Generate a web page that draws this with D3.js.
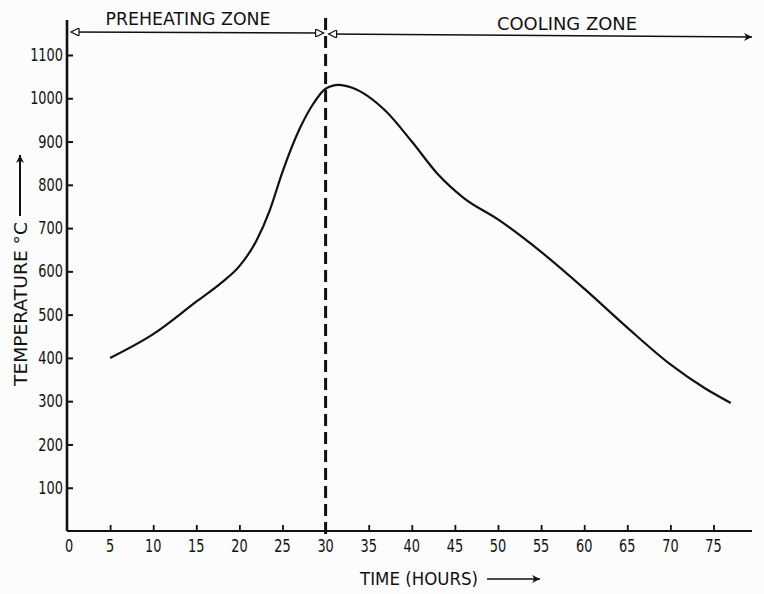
<!DOCTYPE html>
<html>
<head>
<meta charset="utf-8">
<title>Kiln temperature profile</title>
<script src="https://cdnjs.cloudflare.com/ajax/libs/d3/7.8.5/d3.min.js"></script>
<style>
  body { margin: 0; background: #fcfcfc; }
  svg text { font-family: "DejaVu Sans", sans-serif; fill: #111; }
</style>
</head>
<body>
<svg id="chart" width="764" height="594"></svg>
<script>
// curve: time in hours, temperature in deg C
var hours = [5, 10, 15, 18, 20, 22, 23.5, 25, 27, 28.5, 30, 31.5, 33, 37, 40, 43, 46, 50, 55, 60, 65, 70, 74, 77];
var temps = [400, 455, 530, 575, 612, 672, 740, 830, 930, 985, 1022, 1031, 1025, 970, 900, 825, 770, 720, 645, 560, 470, 385, 330, 296];
var xTicks = [0, 5, 10, 15, 20, 25, 30, 35, 40, 45, 50, 55, 60, 65, 70, 75];
var yTicks = [100, 200, 300, 400, 500, 600, 700, 800, 900, 1000, 1100];
var zoneSplit = 30; // hours, end of preheating zone

var svg = d3.select('#chart');
var x = d3.scaleLinear().domain([0, 80]).range([67, 756.6]);
var y = d3.scaleLinear().domain([0, 1100]).range([531, 55]);
var ink = '#111';
var squeeze = 0.76; // lettering on the figure is tall and narrow

// arrow markers
var defs = svg.append('defs');
defs.append('marker').attr('id', 'open').attr('viewBox', '0 0 10 10')
    .attr('refX', 10).attr('refY', 5).attr('markerWidth', 12).attr('markerHeight', 8)
    .attr('markerUnits', 'userSpaceOnUse').attr('orient', 'auto-start-reverse')
  .append('path').attr('d', 'M0,0 L10,5 L0,10 Z').attr('fill', '#fcfcfc').attr('stroke', ink).attr('stroke-width', 1.5);
defs.append('marker').attr('id', 'solid').attr('viewBox', '0 0 10 10')
    .attr('refX', 10).attr('refY', 5).attr('markerWidth', 14).attr('markerHeight', 8)
    .attr('markerUnits', 'userSpaceOnUse').attr('orient', 'auto')
  .append('path').attr('d', 'M0,0 L10,5 L0,10 L3,5 Z').attr('fill', ink);

// y axis
var yAxis = svg.append('g').attr('transform', 'translate(' + x(0) + ',0)')
    .call(d3.axisRight(y).tickValues(yTicks).tickSize(6).tickFormat(''));
yAxis.select('.domain').remove();
yAxis.selectAll('line').attr('stroke', ink).attr('stroke-width', 2);
svg.append('line').attr('x1', x(0)).attr('x2', x(0)).attr('y1', 20).attr('y2', y(0))
    .attr('stroke', ink).attr('stroke-width', 2.6);
svg.selectAll('.ylab').data(yTicks).enter().append('text')
    .attr('transform', function(d){ return 'translate(' + (x(0) - 4) + ',' + y(d) + ') scale(' + squeeze + ',1)'; })
    .attr('dy', '0.36em').attr('text-anchor', 'end').style('font-size', '17px')
    .text(function(d){ return d; });

// x axis
var xAxis = svg.append('g').attr('transform', 'translate(0,' + y(0) + ')')
    .call(d3.axisTop(x).tickValues(xTicks.slice(1)).tickSize(6).tickFormat(''));
xAxis.select('.domain').remove();
xAxis.selectAll('line').attr('stroke', ink).attr('stroke-width', 1.8);
svg.append('line').attr('x1', x(0)).attr('x2', 752).attr('y1', y(0)).attr('y2', y(0))
    .attr('stroke', ink).attr('stroke-width', 2.2);
svg.selectAll('.xlab').data(xTicks).enter().append('text')
    .attr('transform', function(d){ return 'translate(' + (d === 0 ? x(0) + 2 : x(d)) + ',' + (y(0) + 15) + ') scale(' + squeeze + ',1)'; })
    .attr('dy', '0.36em').attr('text-anchor', 'middle').style('font-size', '17px')
    .text(function(d){ return d; });

// boundary between zones
svg.append('line').attr('x1', x(zoneSplit)).attr('x2', x(zoneSplit)).attr('y1', 18).attr('y2', y(0) + 4)
    .attr('stroke', ink).attr('stroke-width', 3).attr('stroke-dasharray', '12,6');

// zone arrows
svg.append('line').attr('x1', x(0) + 4).attr('x2', x(zoneSplit) - 2).attr('y1', 32).attr('y2', 33)
    .attr('stroke', ink).attr('stroke-width', 1.5)
    .attr('marker-start', 'url(#open)').attr('marker-end', 'url(#open)');
svg.append('line').attr('x1', x(zoneSplit) + 3).attr('x2', 752).attr('y1', 34).attr('y2', 37)
    .attr('stroke', ink).attr('stroke-width', 1.6)
    .attr('marker-start', 'url(#open)').attr('marker-end', 'url(#solid)');
svg.append('text').attr('x', 188).attr('y', 25).attr('text-anchor', 'middle')
    .style('font-size', '18px').attr('textLength', 165).attr('lengthAdjust', 'spacingAndGlyphs')
    .text('PREHEATING  ZONE');
svg.append('text').attr('x', 567).attr('y', 30).attr('text-anchor', 'middle')
    .style('font-size', '18px').attr('textLength', 140).attr('lengthAdjust', 'spacingAndGlyphs')
    .text('COOLING  ZONE');

// temperature curve
var pts = hours.map(function(h, i){ return [h, temps[i]]; });
svg.append('path').datum(pts)
    .attr('d', d3.line().x(function(d){ return x(d[0]); }).y(function(d){ return y(d[1]); }).curve(d3.curveMonotoneX))
    .attr('fill', 'none').attr('stroke', ink).attr('stroke-width', 2.2);

// axis titles
svg.append('text').attr('transform', 'translate(27,386) rotate(-90)')
    .style('font-size', '18px').attr('textLength', 164).attr('lengthAdjust', 'spacingAndGlyphs')
    .text('TEMPERATURE  °C');
svg.append('line').attr('x1', 20).attr('x2', 20).attr('y1', 216).attr('y2', 155)
    .attr('stroke', ink).attr('stroke-width', 2).attr('marker-end', 'url(#solid)');
svg.append('text').attr('x', 360).attr('y', 585)
    .style('font-size', '17px').attr('textLength', 118).attr('lengthAdjust', 'spacingAndGlyphs')
    .text('TIME  (HOURS)');
svg.append('line').attr('x1', 487).attr('x2', 540).attr('y1', 579).attr('y2', 579)
    .attr('stroke', ink).attr('stroke-width', 1.5).attr('marker-end', 'url(#solid)');
</script>
</body>
</html>
